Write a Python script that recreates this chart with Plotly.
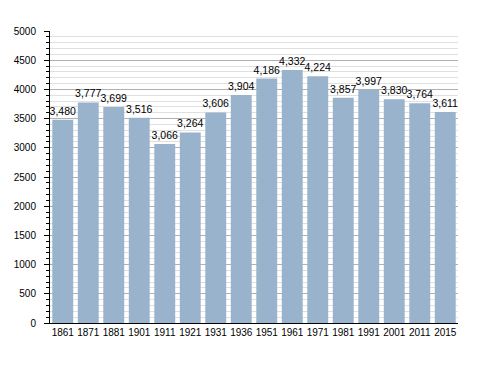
import plotly.graph_objects as go

years = ["1861", "1871", "1881", "1901", "1911", "1921", "1931", "1936",
         "1951", "1961", "1971", "1981", "1991", "2001", "2011", "2015"]
population = [3480, 3777, 3699, 3516, 3066, 3264, 3606, 3904,
              4186, 4332, 4224, 3857, 3997, 3830, 3764, 3611]

FONT = "Liberation Sans, Arial, Helvetica, sans-serif"

fig = go.Figure(go.Bar(
    x=years, y=population,
    marker=dict(color="#99b3cc", line=dict(width=0)),
    texttemplate="%{y:,}", textposition="outside",
    textfont=dict(family=FONT, size=10.5, color="#000"),
    constraintext="none", cliponaxis=False,
))

# page body has an 8px margin, so the figure is sized/offset to compensate
fig.update_layout(
    width=472, height=357,
    margin=dict(l=42, r=22, t=23, b=42),
    paper_bgcolor="white", plot_bgcolor="white",
    bargap=0.18, showlegend=False,
    font=dict(family=FONT, size=10, color="#000"),
    xaxis=dict(type="category", showline=True, linecolor="#000", linewidth=1,
               ticks="", showgrid=False, tickfont=dict(size=10), tickangle=0,
               automargin=False),
    yaxis=dict(range=[0, 5000], dtick=500, showline=True, linecolor="#000",
               linewidth=1, ticks="outside", ticklen=5, tickcolor="#000",
               gridcolor="#b0b0b0", gridwidth=1, zeroline=False,
               tickfont=dict(size=10), automargin=False, ticklabelstandoff=6,
               minor=dict(dtick=100, ticks="outside", ticklen=3, tickcolor="#000",
                          showgrid=True, gridcolor="#e0e0e0", gridwidth=1)),
)

fig.write_html("out.html")
